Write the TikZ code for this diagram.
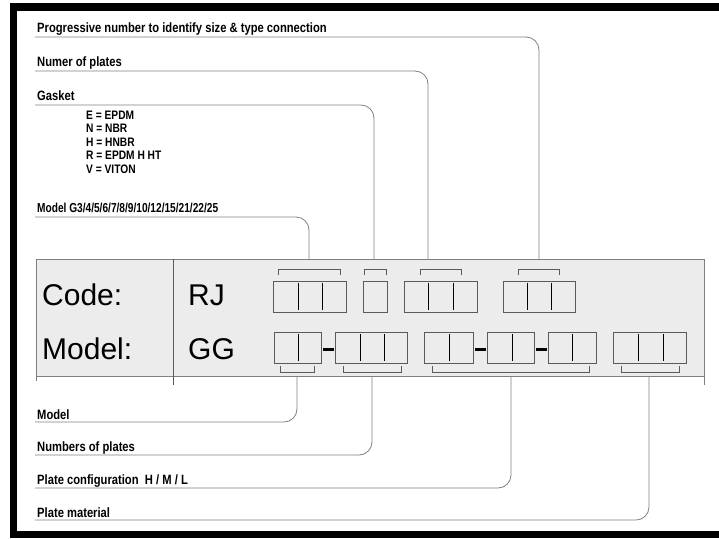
\documentclass[tikz,border=0pt]{standalone}
\usepackage{fontspec}
\setmainfont{Liberation Sans}
\newfontfamily\cond{Liberation Sans}[FakeStretch=0.83,BoldFont={* Bold},BoldFeatures={FakeStretch=0.83}]
\newfontfamily\condn{Liberation Sans}[FakeStretch=0.78,BoldFont={* Bold},BoldFeatures={FakeStretch=0.78}]
\definecolor{boxfill}{HTML}{ECECEC}
\definecolor{linegray}{HTML}{808080}
\definecolor{cellgray}{HTML}{5A5A5A}
\begin{document}
\begin{tikzpicture}[x=1pt,y=-1pt,
  lbl/.style={anchor=base west,inner sep=0pt,font=\cond\bfseries\fontsize{13.5}{14}\selectfont},
  lbln/.style={anchor=base west,inner sep=0pt,font=\condn\bfseries\fontsize{13}{14}\selectfont},
  glist/.style={anchor=base west,inner sep=0pt,font=\cond\bfseries\fontsize{12.3}{13}\selectfont},
  big/.style={anchor=base west,inner sep=0pt,font=\fontsize{30}{32}\selectfont},
  conn/.style={draw=linegray,line width=0.8pt,rounded corners=13pt},
  cell/.style={draw=cellgray,line width=0.9pt},
  cdiv/.style={draw=black,line width=0.7pt},
  brk/.style={draw=cellgray,line width=0.8pt},
  dashbar/.style={fill=black,draw=none}]
\useasboundingbox (0,0) rectangle (719,538);
% frame
\fill[black] (10,3) rectangle (719,11);
\fill[black] (10,3) rectangle (17,538);
\fill[black] (10,531) rectangle (719,538);
% main band
\fill[boxfill] (36,259) rectangle (704,376);
\draw[linegray,line width=0.9pt] (36,259) -- (704,259);
\draw[linegray,line width=0.9pt] (36,376) -- (704,376);
\draw[linegray,line width=0.9pt] (36,259) -- (36,381);
\draw[linegray,line width=0.9pt] (704,259) -- (704,385);
\draw[linegray!70!black,line width=0.9pt] (173,259) -- (173,385);
% big texts
\node[big] (code) at (42,305) {Code:};
\node[big] (model) at (42,359) {Model:};
\node[big] (rj) at (188,305) {RJ};
\node[big] (gg) at (188,359) {GG};
% top labels
\node[lbl] (t1) at (37,32) {Progressive number to identify size \& type connection};
\node[lbl] (t2) at (37,66) {Numer of plates};
\node[lbl] (t3) at (37,100) {Gasket};
\node[glist] (g1) at (86,119) {E = EPDM};
\node[glist] (g2) at (86,132.5) {N = NBR};
\node[glist] (g3) at (86,146) {H = HNBR};
\node[glist] (g4) at (86,159.5) {R = EPDM H HT};
\node[glist] (g5) at (86,173) {V = VITON};
\node[lbln] (t4) at (37,212) {Model G3/4/5/6/7/8/9/10/12/15/21/22/25};
% bottom labels
\node[lbl] (b1) at (37,419) {Model};
\node[lbl] (b2) at (37,451) {Numbers of plates};
\node[lbl] (b3) at (37,484) {Plate configuration\ \ H / M / L};
\node[lbl] (b4) at (37,517) {Plate material};
% code row cells
\draw[cell] (273,281) rectangle (346,312);
\draw[cdiv] (298,283) -- (298,310) (322,283) -- (322,310);
\draw[cell] (363,281) rectangle (387,312);
\draw[cell] (404,281) rectangle (477,312);
\draw[cdiv] (428,283) -- (428,310) (453,283) -- (453,310);
\draw[cell] (503,281) rectangle (575,312);
\draw[cdiv] (527,283) -- (527,310) (551,283) -- (551,310);
% code brackets
\draw[brk] (278,275) -- (278,269) -- (340,269) -- (340,275);
\draw[brk] (364,275) -- (364,269) -- (386,269) -- (386,275);
\draw[brk] (420,275) -- (420,269) -- (461,269) -- (461,275);
\draw[brk] (518,275) -- (518,269) -- (559,269) -- (559,275);
% model row cells
\draw[cell] (274,332) rectangle (321,363);
\draw[cdiv] (298,334) -- (298,361);
\fill[dashbar] (323,347.5) rectangle (334,351);
\draw[cell] (335,332) rectangle (407,363);
\draw[cdiv] (360,334) -- (360,361) (384,334) -- (384,361);
\draw[cell] (424,332) rectangle (473,363);
\draw[cdiv] (449,334) -- (449,361);
\fill[dashbar] (475,347.5) rectangle (486,351);
\draw[cell] (487,332) rectangle (534,363);
\draw[cdiv] (512,334) -- (512,361);
\fill[dashbar] (536,347.5) rectangle (547,351);
\draw[cell] (548,332) rectangle (596,363);
\draw[cdiv] (572,334) -- (572,361);
\draw[cell] (613,332) rectangle (686,363);
\draw[cdiv] (638,334) -- (638,361) (663,334) -- (663,361);
% model brackets
\draw[brk] (280,366) -- (280,372) -- (314,372) -- (314,366);
\draw[brk] (343,366) -- (343,372) -- (401,372) -- (401,366);
\draw[brk] (432,366) -- (432,372) -- (589,372) -- (589,366);
\draw[brk] (621,366) -- (621,372) -- (679,372) -- (679,366);
% connector end points
\coordinate (u1) at (35,37);
\coordinate (u2) at (35,71);
\coordinate (u3) at (35,105);
\coordinate (u4) at (35,217);
\coordinate (c1) at (539,259);
\coordinate (c2) at (428,259);
\coordinate (c3) at (374,259);
\coordinate (c4) at (309,259);
\coordinate (v1) at (35,422);
\coordinate (v2) at (35,455);
\coordinate (v3) at (35,488);
\coordinate (v4) at (35,520);
\coordinate (d1) at (297,376);
\coordinate (d2) at (372,376);
\coordinate (d3) at (511,376);
\coordinate (d4) at (649,376);
% connectors
\draw[conn] (u1) -| (c1);
\draw[conn] (u2) -| (c2);
\draw[conn] (u3) -| (c3);
\draw[conn] (u4) -| (c4);
\draw[conn] (v1) -| (d1);
\draw[conn] (v2) -| (d2);
\draw[conn] (v3) -| (d3);
\draw[conn] (v4) -| (d4);
\end{tikzpicture}
\end{document}
